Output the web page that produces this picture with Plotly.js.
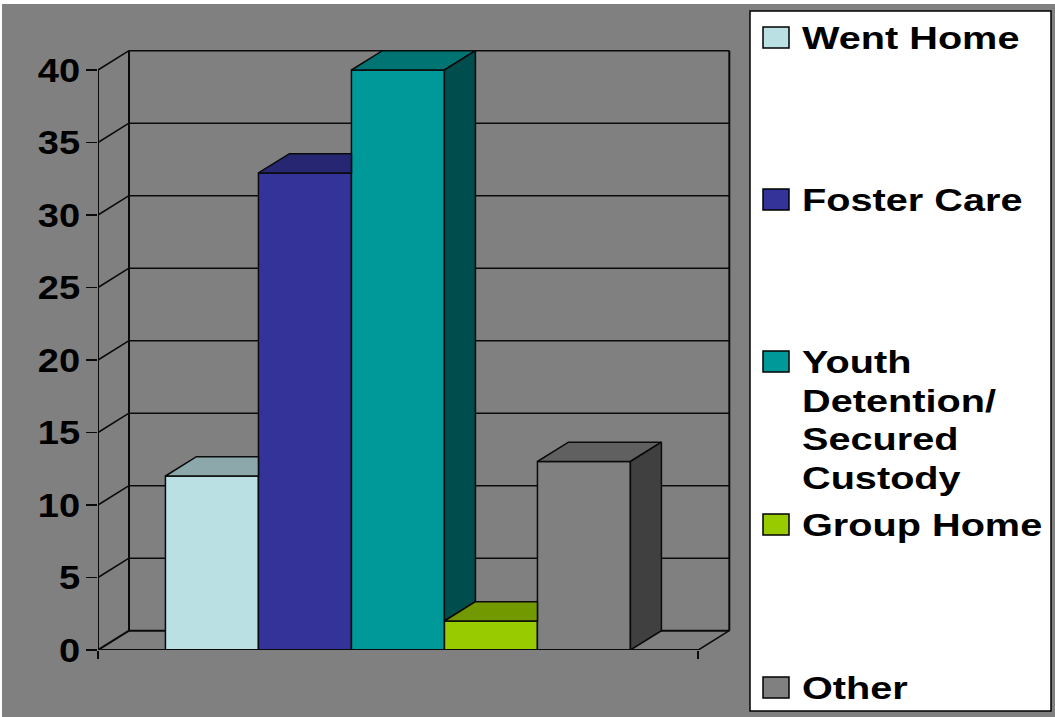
<!DOCTYPE html>
<html>
<head>
<meta charset="utf-8">
<script src="https://cdn.plot.ly/plotly-3.0.1.min.js"></script>
<style>html,body{margin:0;padding:0;background:#fff}#c{position:absolute;left:2px;top:4px;width:1053px;height:713px}</style>
</head>
<body>
<div id="c"></div>
<script>
const categories = ["Went Home", "Foster Care", "Youth Detention/ Secured Custody", "Group Home", "Other"];
const legendLabels = ["Went Home", "Foster Care", "Youth<br>Detention/<br>Secured<br>Custody", "Group Home", "Other"];
const values = [12, 32.9, 40, 2, 13];
const frontColors = ["#BBE0E3", "#333399", "#009999", "#99CC00", "#808080"];
const topColors = ["#8CA8AA", "#262673", "#007373", "#739900", "#606060"];
const sideColors = ["#5E7072", "#1A1A4D", "#004D4D", "#4D6600", "#404040"];
const yTicks = [0, 5, 10, 15, 20, 25, 30, 35, 40];

const DX = 1 / 3, DY = 1.33;
const X0 = -0.725, X1 = 5.73;
const LINE = "#0a0a0a";
const FONT = "Liberation Sans, Arial, sans-serif";
const paperX = p => (p - 98) / 633;
const paperY = p => (650 - p) / 601;

const traces = [];
categories.forEach((name, i) => {
  traces.push({type: "bar", name, x: [i + 0.5], y: [values[i]], width: 1,
    marker: {color: frontColors[i], line: {color: LINE, width: 1.5}}, showlegend: false});
});
categories.forEach((name, i) => {
  const v = values[i], next = i + 1 < values.length ? values[i + 1] : null;
  const l = i, r = i + 1;
  const clipTop = next !== null && next >= v + DY;
  const tx = clipTop ? [l, r, r, l + DX, l] : [l, r, r + DX, l + DX, l];
  const ty = [v, v, v + DY, v + DY, v];
  traces.push({type: "scatter", mode: "lines", x: tx, y: ty, fill: "toself", fillcolor: topColors[i],
    line: {color: LINE, width: 1.5}, showlegend: false, hoverinfo: "skip"});
  const floor = next === null ? 0 : next;
  if (floor < v) {
    traces.push({type: "scatter", mode: "lines",
      x: [r, r + DX, r + DX, r, r], y: [v, v + DY, floor + DY, floor, v],
      fill: "toself", fillcolor: sideColors[i], line: {color: LINE, width: 1.5},
      showlegend: false, hoverinfo: "skip"});
  }
});
traces.push({type: "scatter", mode: "lines", x: [X0, X0], y: [0, 40], line: {color: LINE, width: 2}, cliponaxis: false, showlegend: false, hoverinfo: "skip"});
traces.push({type: "scatter", mode: "lines", x: [X0, X1], y: [0, 0], line: {color: LINE, width: 2}, cliponaxis: false, showlegend: false, hoverinfo: "skip"});

const shapes = [];
const ln = (x0, y0, x1, y1, w) => shapes.push({type: "line", layer: "below", xref: "x", yref: "y", x0, y0, x1, y1, line: {color: LINE, width: w || 1.5}});
yTicks.forEach(t => {
  ln(X0, t, X0 + DX, t + DY, t === 0 ? 2 : 1.5);
  ln(X0 + DX, t + DY, X1 + DX, t + DY, t === 0 ? 2 : 1.5);
});
ln(X0 + DX, DY, X0 + DX, 40 + DY, 2);
ln(X1 + DX, DY, X1 + DX, 40 + DY, 2);
ln(X1, 0, X1 + DX, DY, 1.5);

shapes.push({type: "rect", xref: "paper", yref: "paper", layer: "above",
  x0: paperX(750), x1: paperX(1051), y0: paperY(711), y1: paperY(11),
  fillcolor: "#ffffff", line: {color: "#000", width: 1.5}});
const swatchTop = [27, 189, 351, 514, 677];
const textTop = [18, 180, 342, 505, 668];
const annotations = [];
categories.forEach((name, i) => {
  shapes.push({type: "rect", xref: "paper", yref: "paper", layer: "above",
    x0: paperX(763), x1: paperX(789), y0: paperY(swatchTop[i] + 21), y1: paperY(swatchTop[i]),
    fillcolor: frontColors[i], line: {color: "#000", width: 1.5}});
  annotations.push({xref: "paper", yref: "paper", x: paperX(800), y: paperY(textTop[i]),
    xanchor: "left", yanchor: "top", align: "left", showarrow: false, text: legendLabels[i],
    font: {family: FONT, size: 32, color: "#000", weight: 700}});
});

const layout = {
  width: 1053, height: 713, autosize: false,
  margin: {l: 96, r: 324, t: 45, b: 67, pad: 0},
  paper_bgcolor: "#808080", plot_bgcolor: "rgba(0,0,0,0)",
  barmode: "overlay", showlegend: false,
  xaxis: {range: [X0, X0 + 633 / 93], showgrid: false, zeroline: false, showline: false,
    tickmode: "array", tickvals: [X0, X1], ticktext: ["", ""], ticks: "outside", ticklen: 8, tickwidth: 2, tickcolor: LINE},
  yaxis: {range: [0, 601 / 14.5], showgrid: false, zeroline: false, showline: false,
    tickmode: "array", tickvals: yTicks, ticktext: yTicks.map(String), ticks: "outside", ticklen: 11, tickwidth: 1.5, tickcolor: LINE,
    tickfont: {family: FONT, size: 34, color: "#000", weight: 700}},
  shapes, annotations
};

Plotly.newPlot("c", traces, layout, {displayModeBar: false, staticPlot: true}).then(() => {
  const stretch = (el, s, shift) => {
    const x = +(el.getAttribute("x") || 0);
    const t = el.getAttribute("transform") || "";
    el.setAttribute("transform", `translate(${x + (shift || 0)},0) scale(${s},1) translate(${-x},0) ${t}`);
  };
  document.querySelectorAll(".annotation-text").forEach(el => {
    el.querySelectorAll("tspan.line").forEach((ts, k) => { if (k > 0) ts.setAttribute("dy", (k * 1.21) + "em"); });
    stretch(el, 1.24);
  });
  document.querySelectorAll(".ytick text").forEach(el => stretch(el, 1.12, 1));
});
</script>
</body>
</html>
